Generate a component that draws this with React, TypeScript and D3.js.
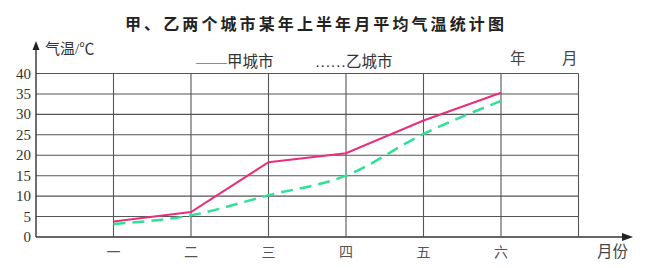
import React from "react";
import * as d3 from "d3";

const months = ["一", "二", "三", "四", "五", "六"];
const cityA = [3.8, 6.1, 18.3, 20.5, 28.5, 35.3];
const cityB = [3.2, 5.3, 10.2, 15.0, 25.2, 33.3];
const yTicks = [0, 5, 10, 15, 20, 25, 30, 35, 40];

export default function App() {
  const W = 653, H = 268;
  const x0 = 36, step = 77.5;
  const x = (i: number) => x0 + step * (i + 1);
  const y = d3.scaleLinear().domain([0, 40]).range([237, 73.5]);
  const gridRight = x(6);

  const lineA = d3.line<number>().x((_, i) => x(i)).y((d) => y(d));
  const lineB = d3.line<number>().x((_, i) => x(i)).y((d) => y(d)).curve(d3.curveMonotoneX);

  const serif = "'Liberation Serif', 'DejaVu Serif', serif";
  const cjk = "'Noto Sans CJK SC', sans-serif";
  const mixed = "'Liberation Serif', 'Noto Sans CJK SC', serif";

  return (
    <svg width={W} height={H} style={{ position: "absolute", left: 0, top: 0, background: "#fff" }}>
      <text x={125} y={30} fontFamily={cjk} fontWeight="bold" fontSize={16} letterSpacing={3.1} fill="#222">
        甲、乙两个城市某年上半年月平均气温统计图
      </text>
      {/* grid horizontal */}
      {yTicks.map((t) => (
        <line key={"h" + t} x1={x0} x2={t === 0 ? 625 : gridRight} y1={y(t)} y2={y(t)} stroke={t === 0 ? "#333" : "#555"} strokeWidth={t === 0 ? 1.4 : 1.1} />
      ))}
      {/* grid vertical */}
      {d3.range(7).map((i) => (
        <line key={"v" + i} x1={x(i)} x2={x(i)} y1={y(40)} y2={y(0)} stroke="#555" strokeWidth={1.1} />
      ))}
      {/* y axis */}
      <line x1={x0} x2={x0} y1={y(0)} y2={48} stroke="#333" strokeWidth={1.4} />
      <path d={`M${x0},41 L${x0 - 3.5},50 L${x0 + 3.5},50 Z`} fill="#222" />
      {/* x axis arrow */}
      <path d={`M633,237 L622,233 L622,241 Z`} fill="#222" />
      {/* y tick labels */}
      {yTicks.map((t) => (
        <text key={"yl" + t} x={31} y={y(t) + 5} textAnchor="end" fontFamily={serif} fontSize={15} fill="#333">
          {t}
        </text>
      ))}
      <text x={45} y={54} fontFamily={mixed} fontSize={15} fill="#333">气温/℃</text>
      {/* legend */}
      <text x={196} y={67} fontFamily={mixed} fontSize={15.5} fill="#333">——甲城市</text>
      <text x={315} y={67} fontFamily={mixed} fontSize={15.5} fill="#333">……乙城市</text>
      <text x={510} y={64} fontFamily={mixed} fontSize={15.5} fill="#444">年</text>
      <text x={562} y={64} fontFamily={mixed} fontSize={15.5} fill="#444">月</text>
      {/* month labels */}
      {months.map((m, i) => (
        <text key={"m" + i} x={x(i)} y={257} textAnchor="middle" fontFamily={mixed} fontSize={14} fill="#555">
          {m}
        </text>
      ))}
      <text x={597} y={257} fontFamily={mixed} fontSize={15.5} fill="#444">月份</text>
      {/* series */}
      <path d={lineB(cityB) || ""} fill="none" stroke="#30e096" strokeWidth={2.5} strokeDasharray="12,7" />
      <path d={lineA(cityA) || ""} fill="none" stroke="#e8307a" strokeWidth={2} />
    </svg>
  );
}
